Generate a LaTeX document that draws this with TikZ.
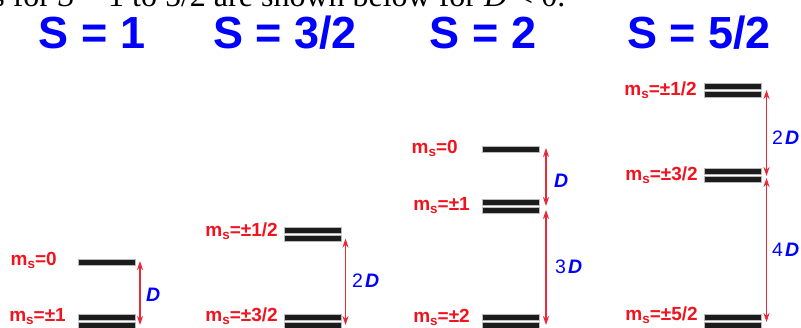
\documentclass[tikz,border=0pt]{standalone}
\usepackage{fontspec}
\setmainfont{Liberation Serif}
\newfontfamily\hv{Liberation Sans}
\usetikzlibrary{arrows.meta,calc}
\definecolor{lvlred}{RGB}{240,20,30}
\definecolor{arrred}{RGB}{235,40,55}
\definecolor{ttlblue}{RGB}{0,0,255}
\definecolor{barblack}{RGB}{28,28,28}
\newcommand{\msub}[1]{m\raisebox{-3.5pt}{\fontsize{13.5}{13.5}\selectfont s}=#1}
\newcommand{\dd}{{\bfseries\itshape D}}
\begin{document}
\begin{tikzpicture}[x=1pt,y=-1pt,
  title/.style={font=\hv\bfseries\fontsize{45}{45}\selectfont, text=ttlblue, inner sep=0, anchor=base},
  mlab/.style={font=\hv\bfseries\fontsize{19}{19}\selectfont, text=lvlred, inner sep=0, anchor=base east},
  dlab/.style={font=\hv\fontsize{19.5}{19.5}\selectfont, text=ttlblue, inner sep=0, anchor=west},
  lvl/.style={fill=barblack, draw=gray!55, line width=0.4pt, minimum width=57pt, minimum height=6pt, inner sep=0, outer sep=0},
  darrow/.style={{Stealth[length=9pt,width=6pt]}-{Stealth[length=9pt,width=6pt]}, draw=arrred, line width=1.2pt}]
\useasboundingbox (0,0) rectangle (801,327);
\clip (0,0) rectangle (801,327);

% clipped intro sentence
\node[font=\fontsize{32}{32}\selectfont, anchor=base west, inner sep=0] (intro) at (132,6)
  {\llap{levels for \textit{S} = 1 }to 5/2 are shown below for \textit{D} < 0.};

% titles
\node[title] (t1) at (92,48) {S = 1};
\node[title] (t2) at (285,48) {S = 3/2};
\node[title] (t3) at (483,48) {S = 2};
\node[title] (t4) at (699,48) {S = 5/2};

% S = 1
\node[lvl] (a0) at (106.5,262) {};
\node[lvl] (a1t) at (106.5,317) {};
\node[lvl] (a1b) at (106.5,325) {};
\node[mlab] (la0) at (57,265) {\msub{0}};
\node[mlab] (la1) at (66,321) {\msub{±1}};
\draw[darrow] ($(a0.east)+(5,-1)$) -- ($(a1b.east)+(5,0)$);
\node[dlab] (da) at (146,295) {\dd};

% S = 3/2
\node[lvl] (b1t) at (313,230.5) {};
\node[lvl] (b1b) at (313,238.5) {};
\node[lvl] (b3t) at (313,317) {};
\node[lvl] (b3b) at (313,325) {};
\node[mlab] (lb1) at (278,236) {\msub{±1/2}};
\node[mlab] (lb3) at (278,321) {\msub{±3/2}};
\draw[darrow] ($(b1b.east)+(4,0)$) -- ($(b3b.east)+(4,0)$);
\node[dlab] (db) at (352,281) {2\hspace{2pt}\dd};

% S = 2
\node[lvl] (c0) at (510.5,149) {};
\node[lvl] (c1t) at (510.5,202) {};
\node[lvl] (c1b) at (510.5,210) {};
\node[lvl] (c2t) at (510.5,317) {};
\node[lvl] (c2b) at (510.5,325) {};
\node[mlab] (lc0) at (458,153) {\msub{0}};
\node[mlab] (lc1) at (470,210) {\msub{±1}};
\node[mlab] (lc2) at (470,322) {\msub{±2}};
\draw[darrow] ($(c0.east)+(7,-1)$) -- ($(c1t.east)+(7,4)$);
\draw[darrow] ($(c1b.east)+(7,0)$) -- ($(c2b.east)+(7,0)$);
\node[dlab] (dc1) at (554,181) {\dd};
\node[dlab] (dc2) at (555,267) {3\hspace{2pt}\dd};

% S = 5/2
\node[lvl] (d1t) at (733,86) {};
\node[lvl] (d1b) at (733,94) {};
\node[lvl] (d3t) at (733,171) {};
\node[lvl] (d3b) at (733,179) {};
\node[lvl] (d5t) at (733,317) {};
\node[lvl] (d5b) at (733,325) {};
\node[mlab] (ld1) at (697,95) {\msub{±1/2}};
\node[mlab] (ld3) at (698,180) {\msub{±3/2}};
\node[mlab] (ld5) at (698,320) {\msub{±5/2}};
\draw[darrow] ($(d1t.east)+(5,4)$) -- ($(d3t.east)+(5,5)$);
\draw[darrow] ($(d3b.east)+(5,-1)$) -- ($(d5b.east)+(5,-3)$);
\node[dlab] (dd1) at (772,138) {2\hspace{2pt}\dd};
\node[dlab] (dd2) at (772,250) {4\hspace{2pt}\dd};
\end{tikzpicture}
\end{document}
